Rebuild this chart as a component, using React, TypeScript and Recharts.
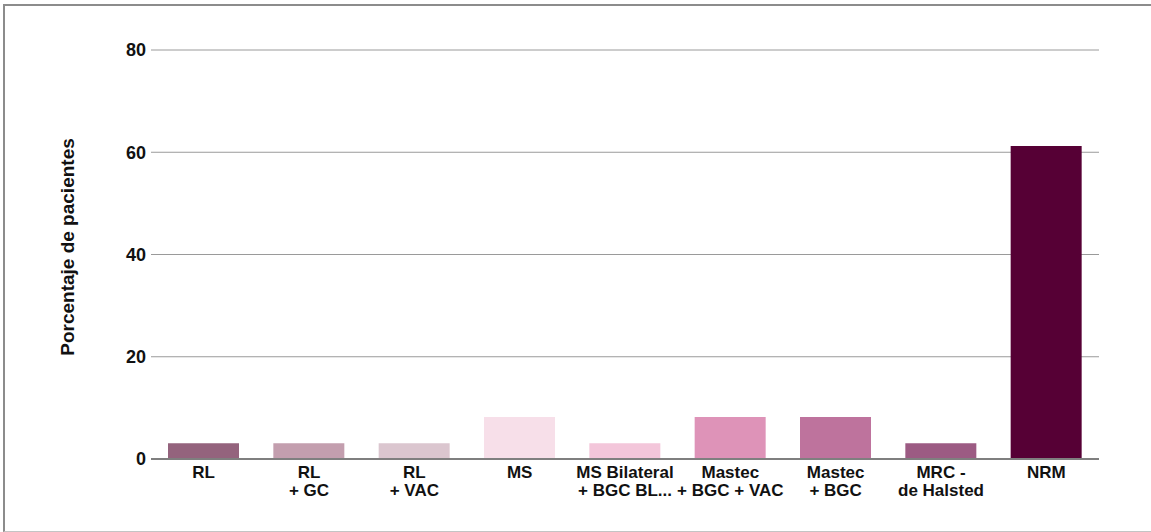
import React from "react";
import { BarChart, Bar, XAxis, YAxis, CartesianGrid, Cell } from "recharts";

// Procedure categories (each line of a label separated by "\n")
const categories: string[] = [
  "RL",
  "RL\n+ GC",
  "RL\n+ VAC",
  "MS",
  "MS Bilateral\n+ BGC BL...",
  "Mastec\n+ BGC + VAC",
  "Mastec\n+ BGC",
  "MRC -\nde Halsted",
  "NRM",
];

// Percentage of patients per procedure
const percentages: number[] = [3.1, 3.1, 3.1, 8.2, 3.1, 8.2, 8.2, 3.1, 61.2];

const barColors: string[] = [
  "#94637d",
  "#c39eae",
  "#dbc6cf",
  "#f7dfe9",
  "#f3c6da",
  "#de93b8",
  "#be739d",
  "#9c5b83",
  "#560035",
];

const yTicks: number[] = [0, 20, 40, 60, 80];
const yAxisTitle = "Porcentaje de pacientes";

const data = categories.map((name, i) => ({ name, value: percentages[i] }));

const FONT = "'Liberation Sans', Arial, sans-serif";

const CategoryTick = (props: any) => {
  const { x, y, payload } = props;
  const lines = String(payload.value).split("\n");
  return (
    <text
      x={x}
      y={y}
      textAnchor="middle"
      fontFamily={FONT}
      fontWeight={700}
      fontSize={17}
      fill="#111"
    >
      {lines.map((line, i) => (
        <tspan key={i} x={x} dy={i === 0 ? "0.71em" : 18}>
          {line}
        </tspan>
      ))}
    </text>
  );
};

const AxisTitle = () => (
  <text
    x={67}
    y={247}
    transform="rotate(-90 67 247)"
    textAnchor="middle"
    dominantBaseline="central"
    fontFamily={FONT}
    fontWeight={700}
    fontSize={19}
    fill="#111"
  >
    {yAxisTitle}
  </text>
);

export default function App() {
  return (
    <div
      style={{
        position: "absolute",
        left: 0,
        top: 0,
        width: 1151,
        height: 532,
        overflow: "hidden",
        background: "#fff",
      }}
    >
      <div
        style={{
          position: "absolute",
          left: 3,
          top: 4,
          width: 1170,
          height: 525,
          borderTop: "2px solid #8c8c8c",
          borderLeft: "2px solid #8c8c8c",
          borderBottom: "1px solid #c4c4c4",
        }}
      />
      <div style={{ position: "absolute", left: 0, top: 0 }}>
        <BarChart
          width={1151}
          height={532}
          data={data}
          margin={{ top: 50, right: 52, bottom: 13, left: 40 }}
          barSize={71}
        >
          <CartesianGrid vertical={false} stroke="#9a9a9a" strokeWidth={1} />
          <XAxis
            dataKey="name"
            interval={0}
            height={60}
            tick={<CategoryTick />}
            tickLine={false}
            tickSize={0}
            tickMargin={7}
            axisLine={{ stroke: "#7f7f7f", strokeWidth: 2 }}
          />
          <YAxis
            width={111}
            domain={[0, 80]}
            ticks={yTicks}
            tickLine={false}
            axisLine={false}
            tickSize={0}
            tickMargin={5}
            tick={{ fontFamily: FONT, fontWeight: 700, fontSize: 18, fill: "#111" }}
            label={{ content: () => <AxisTitle /> }}
          />
          <Bar dataKey="value" isAnimationActive={false}>
            {data.map((_, i) => (
              <Cell key={i} fill={barColors[i]} />
            ))}
          </Bar>
        </BarChart>
      </div>
    </div>
  );
}
